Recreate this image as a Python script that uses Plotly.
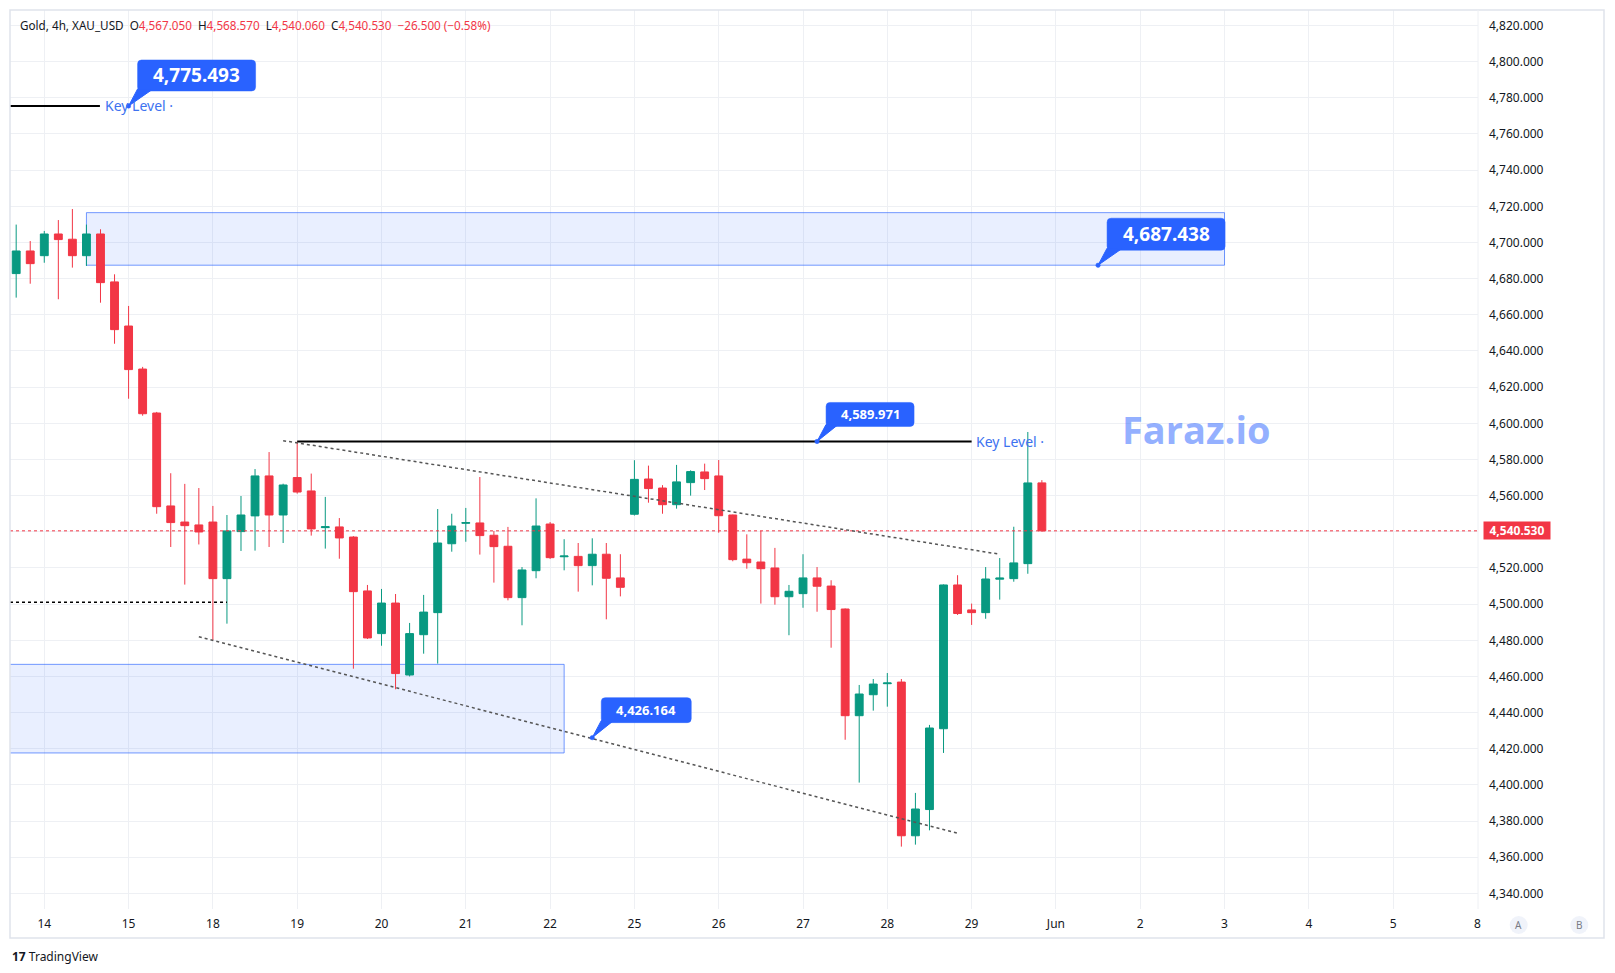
import plotly.graph_objects as go

# ---------------- data (4h bars, index 0 = first bar of the 14th) ----------------
bar_index = list(range(-2, 72))
opens = [4682.8, 4695.3, 4692.7, 4704.7, 4701.8, 4692.7, 4704.7, 4678.2, 4653.8, 4630.0,
         4605.7, 4554.3, 4545.4, 4543.8, 4545.4, 4514.1, 4540.1, 4548.8, 4570.9, 4549.3,
         4570.0, 4562.6, 4542.3, 4542.7, 4537.1, 4507.3, 4483.7, 4500.6, 4460.8, 4483.1,
         4495.3, 4533.4, 4544.7, 4544.9, 4538.1, 4532.0, 4503.6, 4518.5, 4544.3, 4526.2,
         4526.4, 4521.3, 4527.6, 4514.5, 4549.7, 4569.2, 4564.2, 4555.0, 4567.2, 4573.1,
         4570.9, 4549.3, 4524.9, 4523.3, 4520.0, 4504.1, 4505.8, 4514.5, 4510.0, 4497.3,
         4438.3, 4449.9, 4456.0, 4456.9, 4371.9, 4386.4, 4431.1, 4510.6, 4496.8, 4495.3,
         4513.8, 4514.1, 4522.4, 4567.05]
highs = [4709.9, 4700.8, 4706.4, 4712.4, 4718.5, 4709.9, 4707.3, 4682.4, 4664.9, 4631.2,
         4606.3, 4572.4, 4566.5, 4564.2, 4554.3, 4549.3, 4559.8, 4574.7, 4584.1, 4566.6,
         4589.97, 4572.2, 4559.3, 4547.6, 4537.6, 4510.6, 4508.4, 4505.6, 4489.6, 4505.1,
         4552.6, 4550.0, 4553.2, 4570.3, 4540.5, 4542.7, 4520.5, 4558.5, 4545.4, 4535.9,
         4533.8, 4536.4, 4533.8, 4527.6, 4579.6, 4576.6, 4565.8, 4577.0, 4574.0, 4577.7,
         4579.7, 4549.5, 4538.6, 4540.5, 4531.1, 4510.6, 4527.6, 4520.5, 4513.2, 4497.6,
         4455.3, 4458.6, 4461.9, 4458.6, 4395.6, 4433.2, 4510.9, 4516.0, 4500.3, 4520.5,
         4525.5, 4542.8, 4595.2, 4568.57]
lows = [4669.5, 4677.2, 4688.8, 4668.6, 4686.1, 4687.0, 4666.7, 4644.0, 4613.6, 4604.2,
        4550.0, 4531.6, 4510.8, 4533.0, 4480.2, 4489.2, 4529.4, 4529.6, 4531.6, 4533.8,
        4561.1, 4537.9, 4530.7, 4525.1, 4464.3, 4480.7, 4477.0, 4452.9, 4460.0, 4472.6,
        4467.1, 4529.0, 4534.5, 4527.4, 4511.9, 4502.1, 4488.3, 4514.3, 4525.0, 4518.7,
        4506.9, 4510.4, 4491.6, 4504.3, 4549.0, 4556.1, 4550.0, 4552.8, 4560.0, 4563.1,
        4539.5, 4523.7, 4519.6, 4500.3, 4499.7, 4482.8, 4498.0, 4495.8, 4475.9, 4425.0,
        4401.3, 4441.1, 4443.3, 4365.9, 4367.0, 4374.9, 4417.7, 4494.0, 4488.5, 4491.9,
        4502.5, 4512.4, 4516.8, 4540.06]
closes = [4695.3, 4688.3, 4704.7, 4701.6, 4692.7, 4704.7, 4677.8, 4651.8, 4629.7, 4605.3,
          4553.9, 4545.1, 4543.4, 4539.9, 4514.1, 4540.5, 4549.3, 4570.9, 4549.3, 4565.9,
          4562.0, 4541.6, 4542.8, 4536.6, 4506.9, 4481.3, 4500.6, 4461.6, 4483.7, 4495.6,
          4533.8, 4543.2, 4545.1, 4537.9, 4531.8, 4503.6, 4518.9, 4543.2, 4525.7, 4526.6,
          4521.3, 4527.6, 4514.3, 4509.3, 4569.0, 4563.9, 4555.0, 4567.6, 4573.3, 4569.4,
          4548.9, 4524.6, 4522.9, 4519.6, 4504.1, 4507.1, 4514.5, 4509.9, 4497.0, 4438.3,
          4450.3, 4455.8, 4456.4, 4371.9, 4386.7, 4431.5, 4510.6, 4494.8, 4495.3, 4513.9,
          4514.4, 4522.8, 4567.03, 4540.53]

day_tick_index = [0, 6, 12, 18, 24, 30, 36, 42, 48, 54, 60, 66, 72, 78, 84, 90, 96, 102]
day_tick_labels = ["14", "15", "18", "19", "20", "21", "22", "25", "26", "27", "28", "29",
                   "Jun", "2", "3", "4", "5", "8"]
price_ticks = list(range(4340, 4821, 20))

key_level_top = 4775.493
key_level_mid = 4589.971
zone_top = [4687.438, 4716.5]
zone_bottom = [4417.7, 4466.7]
dotted_level = 4501.0
trend_upper = [(17, 4590.4), (68, 4527.6)]
trend_lower = [(11, 4482.0), (65, 4373.3)]
trend_lower_callout = 4426.164

# ---------------- geometry ----------------
W, H = 1615, 973
PL, PR, PT, PB = 10, 1478, 10, 909          # plot pane in pixels
X_RANGE = [-2.44, 102.04]
Y_RANGE = [4331.4, 4828.57]
PW, PH = PR - PL, PB - PT
UX = (X_RANGE[1] - X_RANGE[0]) / PW      # data units per pixel
UY = (Y_RANGE[1] - Y_RANGE[0]) / PH

def px_x(X):
    return (X - PL) / PW

def px_y(Y):
    return (PB - Y) / PH

def off(xi, yv, dx, dy):
    """offset a data point by dx pixels right and dy pixels down"""
    return xi + dx * UX, yv - dy * UY

GREEN, RED = "#089981", "#f23645"
BLUE = "#2962ff"
TXT = "#131722"
FONT = "Noto Sans"

fig = go.Figure()
fig.add_trace(go.Candlestick(
    x=bar_index, open=opens, high=highs, low=lows, close=closes,
    increasing=dict(line=dict(color=GREEN, width=1), fillcolor=GREEN),
    decreasing=dict(line=dict(color=RED, width=1), fillcolor=RED),
    whiskerwidth=0, hoverinfo="skip", showlegend=False,
))

shapes = []
# zones
shapes.append(dict(type="rect", xref="x", yref="y", x0=3, x1=84, y0=zone_top[0], y1=zone_top[1],
                   fillcolor="rgba(41,98,255,0.10)", line=dict(color="rgba(41,98,255,0.65)", width=1),
                   layer="between"))
shapes.append(dict(type="rect", xref="x", yref="y", x0=-6, x1=37, y0=zone_bottom[0], y1=zone_bottom[1],
                   fillcolor="rgba(41,98,255,0.10)", line=dict(color="rgba(41,98,255,0.65)", width=1),
                   layer="between"))
# key levels
shapes.append(dict(type="line", xref="x", yref="y", x0=X_RANGE[0], x1=3.96, y0=key_level_top, y1=key_level_top,
                   line=dict(color="#000000", width=2)))
shapes.append(dict(type="line", xref="x", yref="y", x0=18, x1=66, y0=key_level_mid, y1=key_level_mid,
                   line=dict(color="#000000", width=2)))
# dotted level
shapes.append(dict(type="line", xref="x", yref="y", x0=X_RANGE[0], x1=13, y0=dotted_level, y1=dotted_level,
                   line=dict(color="#000000", width=1.5, dash="dot")))
# current price line
shapes.append(dict(type="line", xref="paper", yref="y", x0=0, x1=1, y0=closes[-1], y1=closes[-1],
                   line=dict(color=RED, width=1, dash="dot")))
# trendlines
for (a, b) in (trend_upper, trend_lower):
    shapes.append(dict(type="line", xref="x", yref="y", x0=a[0], y0=a[1], x1=b[0], y1=b[1],
                       line=dict(color="#555555", width=1.5, dash="dot")))
# frame & separators
shapes.append(dict(type="rect", xref="paper", yref="paper", x0=px_x(10), x1=px_x(1604),
                   y0=px_y(938), y1=px_y(10), line=dict(color="#e0e3eb", width=1.5)))
shapes.append(dict(type="line", xref="paper", yref="paper", x0=1, x1=1, y0=0, y1=1,
                   line=dict(color="#eef0f4", width=1)))
# A / B buttons
for cx in (1518.7, 1579.3):
    shapes.append(dict(type="circle", xref="paper", yref="paper",
                       x0=px_x(cx - 9), x1=px_x(cx + 9), y0=px_y(925 + 9), y1=px_y(925 - 9),
                       fillcolor="#f0f3fa", line=dict(width=0)))

ann = []

# callouts: rounded blue box with a wedge pointing at the anchor
callouts = [
    (6.0, key_level_top, f"{key_level_top:,.3f}", 118, 31, 19),
    (55.0, key_level_mid, f"{key_level_mid:,.3f}", 88, 24, 13),
    (75.0, zone_top[0], f"{zone_top[0]:,.3f}", 118, 32, 19),
    (39.0, trend_lower_callout, f"{trend_lower_callout:,.3f}", 90, 25, 13),
]
GAP_X, GAP_Y, R = 9, 15, 4
for xi, yv, txt, bw, bh, fs in callouts:
    left, right = GAP_X, GAP_X + bw
    bottom, top = -GAP_Y, -GAP_Y - bh
    pts = lambda dx, dy: "%.5f,%.5f" % off(xi, yv, dx, dy)
    box = ("M " + pts(left + R, top) + " L " + pts(right - R, top) +
           " Q " + pts(right, top) + " " + pts(right, top + R) +
           " L " + pts(right, bottom - R) +
           " Q " + pts(right, bottom) + " " + pts(right - R, bottom) +
           " L " + pts(left + R, bottom) +
           " Q " + pts(left, bottom) + " " + pts(left, bottom - R) +
           " L " + pts(left, top + R) +
           " Q " + pts(left, top) + " " + pts(left + R, top) + " Z")
    shapes.append(dict(type="path", xref="x", yref="y", path=box, fillcolor=BLUE,
                       line=dict(color=BLUE, width=0.5), layer="above"))
    wedge_w = round(bw * 0.12)
    wedge = ("M " + pts(0, 0) + " L " + pts(left, bottom - 2) + " L " + pts(left + wedge_w, bottom - 1) + " Z")
    shapes.append(dict(type="path", xref="x", yref="y", path=wedge, fillcolor=BLUE,
                       line=dict(color=BLUE, width=1), layer="above"))
    cx0, cy0 = off(xi, yv, -2.2, -2.2)
    cx1, cy1 = off(xi, yv, 2.2, 2.2)
    shapes.append(dict(type="circle", xref="x", yref="y", x0=cx0, x1=cx1, y0=cy1, y1=cy0,
                       fillcolor=BLUE, line=dict(color=BLUE, width=0.5), layer="above"))
    ann.append(dict(xref="x", yref="y", x=xi, y=yv, xshift=(left + right) / 2, yshift=-(top + bottom) / 2,
                    text=f"<b>{txt}</b>", showarrow=False, xanchor="center", yanchor="middle",
                    font=dict(family=FONT, size=fs, color="white")))

hdr_sp = "\u00a0\u00a0"
def red(s):
    return f"<span style='color:{RED}'>{s}</span>"
chg = closes[-1] - closes[-2]
pct = chg / closes[-2] * 100
def fmt_signed(v, f):
    s = format(abs(v), f)
    return ("\u2212" if v < 0 else "+") + s
header = ("Gold, 4h, XAU_USD" + hdr_sp + "O" + red(f"{opens[-1]:,.3f}") + hdr_sp +
          "H" + red(f"{highs[-1]:,.3f}") + hdr_sp + "L" + red(f"{lows[-1]:,.3f}") + hdr_sp +
          "C" + red(f"{closes[-1]:,.3f}") + hdr_sp +
          red(f"{fmt_signed(chg, ',.3f')} ({fmt_signed(pct, '.2f')}%)"))
ann.append(dict(xref="paper", yref="paper", x=px_x(18), y=px_y(25), xanchor="left", yanchor="middle",
                text=header, showarrow=False, font=dict(family=FONT, size=11.7, color=TXT)))

# Key Level labels
for xi, yv in ((6.74, key_level_top), (68.75, key_level_mid)):
    ann.append(dict(xref="x", yref="y", x=xi, y=yv, text="Key Level \u00b7", showarrow=False,
                    xanchor="center", yanchor="middle",
                    font=dict(family=FONT, size=14, color="#3d72f0")))

# current price tag on the axis
ann.append(dict(xref="paper", yref="y", x=px_x(1483), y=closes[-1], xanchor="left", yanchor="middle",
                text=f"<b>{closes[-1]:,.3f}</b>", showarrow=False, bgcolor=RED, borderpad=1,
                width=64, height=15, font=dict(family=FONT, size=12, color="white")))

# watermark
ann.append(dict(xref="paper", yref="paper", x=px_x(1196), y=px_y(429), text="<b>Faraz.io</b>",
                showarrow=False, xanchor="center", yanchor="middle",
                font=dict(family="Open Sans", size=38, color="rgba(41,98,255,0.5)")))

# A / B letters
for cx, letter in ((1518.7, "A"), (1579.3, "B")):
    ann.append(dict(xref="paper", yref="paper", x=px_x(cx), y=px_y(925), text=letter, showarrow=False,
                    xanchor="center", yanchor="middle", font=dict(family=FONT, size=10, color="#787b86")))

# TradingView logo
ann.append(dict(xref="paper", yref="paper", x=px_x(10), y=px_y(956), xanchor="left", yanchor="middle",
                text="<b>17</b> TradingView", showarrow=False, font=dict(family=FONT, size=12, color=TXT)))

fig.update_layout(
    width=W, height=H, autosize=False,
    margin=dict(l=PL, r=W - PR, t=PT, b=H - PB, pad=0),
    paper_bgcolor="white", plot_bgcolor="white",
    boxgap=0.2, showlegend=False,
    shapes=shapes, annotations=ann,
    font=dict(family=FONT, size=12, color=TXT),
    hovermode=False,
)
fig.update_xaxes(range=X_RANGE, tickmode="array", tickvals=day_tick_index, ticktext=day_tick_labels,
                 showgrid=True, gridcolor="#eef0f4", gridwidth=1, zeroline=False, showline=False,
                 ticks="", ticklabelstandoff=6, rangeslider=dict(visible=False),
                 tickfont=dict(family=FONT, size=12, color=TXT), fixedrange=True)
fig.update_yaxes(range=Y_RANGE, side="right", tickmode="array", tickvals=price_ticks, tickformat=",.3f",
                 showgrid=True, gridcolor="#eef0f4", gridwidth=1, zeroline=False, showline=False,
                 ticks="", ticklabelstandoff=10,
                 tickfont=dict(family=FONT, size=12, color=TXT), fixedrange=True)

fig.write_html("out.html", config={"displayModeBar": False})
